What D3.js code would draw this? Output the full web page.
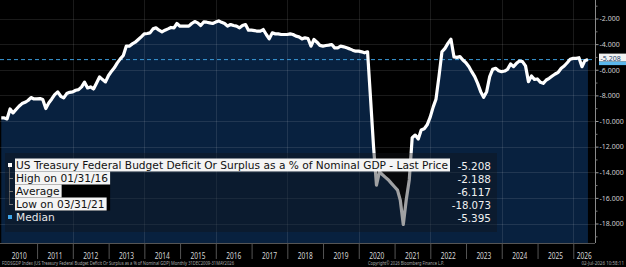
<!DOCTYPE html>
<html>
<head>
<meta charset="utf-8">
<script src="https://cdn.jsdelivr.net/npm/d3@7"></script>
<style>
  body { margin: 0; background: #000; }
  svg { display: block; }
  text { font-family: "Noto Sans", "DejaVu Sans", sans-serif; }
  .leg { font-family: "DejaVu Sans", sans-serif; }
</style>
</head>
<body>
<div id="chart"></div>
<script>
// Monthly, month-end values, first point is Dec 2009, last is May 2026
const firstMonth = { year: 2009, month: 11 };
const deficitPct = [
  -9.76,
  -9.76, -9.84, -9.06, -9.37, -9.10, -8.85, -8.64, -8.54, -8.40, -8.17, -8.28, -8.28,
  -8.25, -8.33, -9.03, -8.59, -8.28, -7.94, -7.73, -8.07, -8.20, -7.86, -7.76, -7.73,
  -7.60, -7.55, -7.34, -6.97, -7.42, -7.34, -7.50, -7.03, -6.56, -6.77, -6.95, -6.45,
  -6.11, -5.85, -5.46, -5.15, -4.89, -4.16, -4.16, -3.98, -3.85, -3.64, -3.43, -3.20,
  -3.17, -3.12, -2.81, -2.73, -2.91, -3.04, -2.91, -2.81, -2.70, -2.73, -2.39, -2.60,
  -2.60, -2.60, -2.60, -2.39, -2.24, -2.34, -2.55, -2.27, -2.29, -2.34, -2.39, -2.28,
  -2.188, -2.30, -2.39, -2.60, -2.47, -2.55, -2.60, -2.73, -2.55, -2.47, -2.91, -2.91,
  -2.94, -2.99, -2.99, -2.86, -3.25, -3.59, -3.12, -3.20, -3.20, -3.25, -3.25, -3.25,
  -3.20, -3.25, -3.38, -3.43, -3.59, -3.51, -3.56, -4.16, -3.64, -3.85, -4.10, -4.16,
  -4.11, -4.08, -4.03, -4.29, -4.29, -4.16, -4.21, -4.29, -4.37, -4.47, -4.55, -4.55,
  -4.60, -4.68, -4.60, -8.20, -12.00, -15.00, -13.96, -14.20, -14.40, -14.60, -14.87, -15.13,
  -15.39, -16.17, -18.073, -16.17, -14.60, -11.30, -11.10, -11.40, -10.70, -10.60, -10.30, -9.70,
  -8.90, -8.30, -6.50, -4.60, -4.33, -3.94, -3.62, -5.00, -5.03, -4.98, -5.24, -5.45,
  -5.76, -6.15, -6.54, -7.06, -7.71, -8.15, -7.71, -6.54, -5.97, -5.89, -6.07, -6.15,
  -6.10, -5.97, -5.55, -5.76, -5.50, -5.32, -5.37, -5.70, -6.93, -6.49, -6.75, -6.72,
  -6.98, -7.06, -6.80, -6.67, -6.49, -6.33, -6.20, -5.89, -5.71, -5.45, -5.18, -5.11,
  -5.11, -5.06, -5.76, -5.29, -5.208
];

const yTicks = [-2, -4, -6, -8, -10, -12, -14, -16, -18];
const yMinorTicks = [-1, -3, -5, -7, -9, -11, -13, -15, -17, -19];
const yearLabels = [2010, 2011, 2012, 2013, 2014, 2015, 2016, 2017, 2018,
  2019, 2020, 2021, 2022, 2023, 2024, 2025, 2026];
const gridYears = [2012, 2014, 2016, 2018, 2020, 2022, 2024, 2026];

const legendLabels = [
  "US Treasury Federal Budget Deficit Or Surplus as a % of Nominal GDP - Last Price",
  "High on 01/31/16",
  "Average",
  "Low on 03/31/21",
  "Median"
];
const legendValues = [-5.208, -2.188, -6.117, -18.073, -5.395];
const lastPrice = -5.208;

const W = 626, H = 267;
const plotRight = 595, plotBottom = 243;

const data = deficitPct.map((v, i) => ({
  date: new Date(firstMonth.year, firstMonth.month + i + 1, 0),
  value: v
}));

const fmt = (v) => v.toFixed(3);

const x = d3.scaleTime()
  .domain([new Date(2009, 11, 18), new Date(2026, 7, 11)])
  .range([0, plotRight]);
const y = d3.scaleLinear().domain([-2, -18]).range([18.5, 223.5]);

const svg = d3.select("#chart").append("svg")
  .attr("width", W).attr("height", H);

svg.append("rect").attr("width", W).attr("height", H).attr("fill", "#000");

svg.append("clipPath").attr("id", "plot-clip")
  .append("rect").attr("width", plotRight).attr("height", plotBottom);

const plot = svg.append("g").attr("clip-path", "url(#plot-clip)");

// area under the line
plot.append("path")
  .datum(data)
  .attr("fill", "#08213f")
  .attr("d", d3.area()
    .x((d) => x(d.date))
    .y0(plotBottom)
    .y1((d) => y(d.value)));

// grid
plot.append("g").selectAll("line")
  .data(yTicks).enter().append("line")
  .attr("x1", 0).attr("x2", plotRight)
  .attr("y1", (d) => Math.round(y(d)) + 0.5)
  .attr("y2", (d) => Math.round(y(d)) + 0.5)
  .attr("stroke", "rgba(255,255,255,0.1)");

plot.append("g").selectAll("line")
  .data(gridYears).enter().append("line")
  .attr("x1", (d) => Math.round(x(new Date(d, 0, 1))) + 0.5)
  .attr("x2", (d) => Math.round(x(new Date(d, 0, 1))) + 0.5)
  .attr("y1", 0).attr("y2", plotBottom)
  .attr("stroke", "rgba(255,255,255,0.1)");

// last price dashed line
plot.append("line")
  .attr("x1", 0).attr("x2", plotRight)
  .attr("y1", y(lastPrice)).attr("y2", y(lastPrice))
  .attr("stroke", "#3b9ad8")
  .attr("stroke-width", 1)
  .attr("stroke-dasharray", "4,3");

// the series
plot.append("path")
  .datum(data)
  .attr("fill", "none")
  .attr("stroke", "#fff")
  .attr("stroke-width", 3.2)
  .attr("stroke-linejoin", "round")
  .attr("d", d3.line().x((d) => x(d.date)).y((d) => y(d.value)));

// frame
svg.append("line")
  .attr("x1", 0).attr("x2", plotRight)
  .attr("y1", plotBottom + 0.5).attr("y2", plotBottom + 0.5)
  .attr("stroke", "#555");
svg.append("line")
  .attr("x1", plotRight + 0.5).attr("x2", plotRight + 0.5)
  .attr("y1", 0).attr("y2", plotBottom)
  .attr("stroke", "#8a8a8a");

// right axis
const yAxis = svg.append("g")
  .attr("transform", `translate(${plotRight + 0.5},0)`)
  .call(d3.axisRight(y).tickValues(yTicks).tickFormat(fmt).tickSize(3).tickPadding(1));
yAxis.select(".domain").remove();
yAxis.selectAll("line").attr("stroke", "#9a9a9a");
yAxis.selectAll("text")
  .attr("fill", "#cfcfcf")
  .style("font-size", "7px");

const yMinor = svg.append("g")
  .attr("transform", `translate(${plotRight + 0.5},0)`)
  .call(d3.axisRight(y).tickValues(yMinorTicks).tickFormat("").tickSize(2));
yMinor.select(".domain").remove();
yMinor.selectAll("line").attr("stroke", "#777");

// bottom axis separators + year labels
const xAxis = svg.append("g")
  .attr("transform", `translate(0,${plotBottom})`)
  .call(d3.axisBottom(x)
    .tickValues(yearLabels.slice(1).map((yr) => new Date(yr, 0, 1)))
    .tickFormat("")
    .tickSize(16));
xAxis.select(".domain").remove();
xAxis.selectAll("line").attr("stroke", "#555");

svg.append("g").selectAll("text")
  .data(yearLabels).enter().append("text")
  .attr("x", (d) => {
    const a = Math.max(x(new Date(d, 0, 1)), 0);
    const b = Math.min(x(new Date(d + 1, 0, 1)), plotRight);
    return (a + b) / 2;
  })
  .attr("y", 258.5)
  .attr("text-anchor", "middle")
  .attr("fill", "#d6d6d6")
  .attr("textLength", 15)
  .attr("lengthAdjust", "spacingAndGlyphs")
  .style("font-size", "8.5px")
  .text((d) => d);

// legend
const legend = svg.append("g");
legend.append("rect")
  .attr("x", 5).attr("y", 153).attr("width", 492).attr("height", 79)
  .attr("fill", "rgba(18,20,24,0.4)");

const rowY = legendLabels.map((d, i) => 165 + 13 * i);
const labelSize = 10.4;

const labels = legendLabels.map((t, i) => {
  return legend.append("text")
    .attr("class", "leg")
    .attr("x", 16).attr("y", rowY[i] + 4)
    .style("font-size", labelSize + "px")
    .text(t);
});
// squeeze the glyphs a bit so the long label spans the same width as the reference
const squeeze = 432 / labels[0].node().getComputedTextLength();
const widths = labels.map((el) => {
  const w = el.node().getComputedTextLength() * squeeze;
  el.attr("textLength", w).attr("lengthAdjust", "spacingAndGlyphs");
  return w;
});

// black block behind High / Average / Low rows
const midW = d3.max(widths.slice(1, 4));
legend.insert("rect", "text")
  .attr("x", 15).attr("y", rowY[1] - 6.5)
  .attr("width", midW + 3).attr("height", 39)
  .attr("fill", "#000");

labels.forEach((el, i) => {
  if (i < 4) {
    legend.insert("rect", "text")
      .attr("x", 15).attr("y", rowY[i] - 6.5)
      .attr("width", widths[i] + 3).attr("height", 13)
      .attr("fill", "#f4f4f4");
    el.attr("fill", "#111");
  } else {
    el.attr("fill", "#e8e8e8");
  }
});

legend.append("line")
  .attr("x1", 9.5).attr("x2", 9.5)
  .attr("y1", rowY[0]).attr("y2", rowY[3])
  .attr("stroke", "#555");
legend.append("rect")
  .attr("x", 8).attr("y", rowY[0] - 2).attr("width", 4).attr("height", 4)
  .attr("fill", "#fff");
[1, 2, 3].forEach((i) => {
  legend.append("line")
    .attr("x1", 9).attr("x2", 13)
    .attr("y1", rowY[i] + 0.5).attr("y2", rowY[i] + 0.5)
    .attr("stroke", "#777");
});
legend.append("rect")
  .attr("x", 8).attr("y", rowY[4] - 2).attr("width", 4).attr("height", 4)
  .attr("fill", "#3ea6ea");

legend.selectAll(".val")
  .data(legendValues).enter().append("text")
  .attr("class", "val leg")
  .attr("x", 491)
  .attr("y", (d, i) => rowY[i] + 4.5)
  .attr("text-anchor", "end")
  .attr("fill", "#f0f0f0")
  .style("font-size", "10.6px")
  .text(fmt)
  .attr("textLength", (d) => fmt(d).length * 5.6)
  .attr("lengthAdjust", "spacingAndGlyphs");

// last price tag on the axis
svg.append("rect")
  .attr("x", 599).attr("y", y(lastPrice) - 6).attr("width", 27).attr("height", 8)
  .attr("fill", "#f2f2f2");
svg.append("rect")
  .attr("x", 599).attr("y", y(lastPrice) + 2).attr("width", 27).attr("height", 3.5)
  .attr("fill", "#5bb8ee");
svg.append("text")
  .attr("x", 600.5).attr("y", y(lastPrice) + 1)
  .attr("fill", "#163a66")
  .style("font-size", "7px")
  .text(fmt(lastPrice));

// footer
svg.append("text")
  .attr("x", 2).attr("y", 265)
  .attr("fill", "#a8a8a8")
  .attr("textLength", 232)
  .attr("lengthAdjust", "spacingAndGlyphs")
  .style("font-size", "4.5px")
  .text("FDDSGDP Index (US Treasury Federal Budget Deficit Or Surplus as a % of Nominal GDP) Monthly 31DEC2009-31MAY2026");
svg.append("text")
  .attr("x", 368).attr("y", 265)
  .attr("fill", "#a8a8a8")
  .attr("textLength", 76)
  .attr("lengthAdjust", "spacingAndGlyphs")
  .style("font-size", "4.5px")
  .text("Copyright\u00a9 2026 Bloomberg Finance L.P.");
svg.append("text")
  .attr("x", 624).attr("y", 265)
  .attr("text-anchor", "end")
  .attr("fill", "#a8a8a8")
  .style("font-size", "4.5px")
  .text("02-Jul-2026 10:58:11");
</script>
</body>
</html>
